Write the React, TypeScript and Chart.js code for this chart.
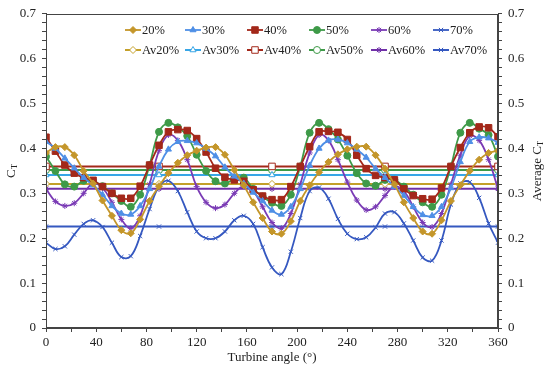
import React, { useEffect, useRef } from 'react';
import { Chart, registerables } from 'chart.js';
import { drawPoint } from 'chart.js/helpers';

Chart.register(...registerables);

const FONT = "'Liberation Serif', 'Times New Roman', serif";

// Turbine angle (degrees)
const angles = [
  0, 7.5, 15, 22.5, 30, 37.5, 45, 52.5,
  60, 67.5, 75, 82.5, 90, 97.5, 105, 112.5,
  120, 127.5, 135, 142.5, 150, 157.5, 165, 172.5,
  180, 187.5, 195, 202.5, 210, 217.5, 225, 232.5,
  240, 247.5, 255, 262.5, 270, 277.5, 285, 292.5,
  300, 307.5, 315, 322.5, 330, 337.5, 345, 352.5,
  360,
];

const ct20 = [
  0.39, 0.403, 0.403, 0.385, 0.35, 0.322, 0.284, 0.25,
  0.218, 0.211, 0.242, 0.283, 0.316, 0.345, 0.368, 0.385,
  0.395, 0.402, 0.403, 0.386, 0.352, 0.318, 0.28, 0.245,
  0.215, 0.21, 0.238, 0.283, 0.318, 0.347, 0.37, 0.387,
  0.398, 0.404, 0.404, 0.385, 0.355, 0.32, 0.28, 0.245,
  0.215, 0.21, 0.24, 0.283, 0.318, 0.35, 0.375, 0.39,
  0.395,
];

const ct30 = [
  0.415, 0.4, 0.378, 0.356, 0.335, 0.318, 0.297, 0.272,
  0.255, 0.253, 0.272, 0.31, 0.36, 0.398, 0.415, 0.417,
  0.412, 0.4, 0.383, 0.358, 0.338, 0.322, 0.302, 0.283,
  0.262, 0.253, 0.27, 0.31, 0.362, 0.4, 0.418, 0.42,
  0.412, 0.398, 0.38, 0.355, 0.335, 0.315, 0.295, 0.27,
  0.252, 0.25, 0.27, 0.312, 0.37, 0.415, 0.425, 0.423,
  0.413,
];

const ct40 = [
  0.425, 0.394, 0.363, 0.345, 0.335, 0.329, 0.315, 0.3,
  0.289, 0.289, 0.316, 0.363, 0.407, 0.437, 0.442, 0.44,
  0.422, 0.392, 0.356, 0.336, 0.33, 0.327, 0.308, 0.294,
  0.286, 0.286, 0.315, 0.36, 0.404, 0.437, 0.438, 0.436,
  0.42, 0.385, 0.355, 0.34, 0.335, 0.33, 0.31, 0.295,
  0.288, 0.287, 0.312, 0.36, 0.402, 0.435, 0.448, 0.446,
  0.426,
];

const ct50 = [
  0.382, 0.35, 0.32, 0.315, 0.328, 0.327, 0.316, 0.3,
  0.283, 0.27, 0.297, 0.363, 0.437, 0.457, 0.447, 0.428,
  0.386, 0.35, 0.327, 0.322, 0.332, 0.335, 0.31, 0.293,
  0.279, 0.272, 0.297, 0.36, 0.435, 0.457, 0.443, 0.42,
  0.384, 0.345, 0.322, 0.317, 0.33, 0.33, 0.315, 0.297,
  0.28, 0.27, 0.297, 0.36, 0.435, 0.457, 0.444, 0.43,
  0.382,
];

const ct60 = [
  0.31, 0.282, 0.272, 0.278, 0.3, 0.322, 0.312, 0.28,
  0.242, 0.222, 0.25, 0.32, 0.395, 0.43, 0.418, 0.375,
  0.315, 0.28, 0.267, 0.275, 0.3, 0.316, 0.305, 0.27,
  0.235, 0.222, 0.255, 0.32, 0.39, 0.43, 0.418, 0.375,
  0.325, 0.285, 0.263, 0.27, 0.295, 0.315, 0.305, 0.27,
  0.235, 0.225, 0.255, 0.32, 0.385, 0.428, 0.418, 0.375,
  0.31,
];

const ct70 = [
  0.19, 0.176, 0.182, 0.208, 0.232, 0.24, 0.225, 0.19,
  0.158, 0.16, 0.205, 0.265, 0.315, 0.328, 0.305, 0.258,
  0.215, 0.2, 0.2, 0.215, 0.24, 0.25, 0.232, 0.18,
  0.135, 0.12, 0.17, 0.245, 0.305, 0.313, 0.288, 0.243,
  0.21, 0.198, 0.202, 0.224, 0.255, 0.258, 0.233, 0.195,
  0.157, 0.15, 0.195, 0.275, 0.322, 0.325, 0.29, 0.233,
  0.19,
];

// Average lines (marker positions and values)
const avgAngles = [0, 90, 180, 270, 360];
const av20 = 0.321;
const av30 = 0.341;
const av40 = 0.36;
const av50 = 0.352;
const av60 = 0.31;
const av70 = 0.226;

const seriesLabels = ['20%', '30%', '40%', '50%', '60%', '70%'];
const avgLabels = ['Av20%', 'Av30%', 'Av40%', 'Av50%', 'Av60%', 'Av70%'];

const COLORS = ['#c4962a', '#4f8fe6', '#a3281a', '#3e9a48', '#7a3bb5', '#3558c0'];
const AVG_COLORS = ['#c4a02a', '#38a6e6', '#a3281a', '#3e9a48', '#7030a8', '#3558c0'];
const STYLES = ['rectRot', 'triangle', 'rect', 'circle', 'star', 'crossRot'];
const RADII = [3.5, 3.5, 4.6, 3.5, 3, 3];

const LEGEND_X = [125, 185, 247, 309, 371, 433];
const LEGEND_Y = [30, 50];

function decorPlugin() {
  return {
    id: 'decor',
    afterDraw(chart: any) {
      const { ctx, chartArea: ca } = chart;
      ctx.save();
      // frame
      ctx.strokeStyle = '#444';
      ctx.lineWidth = 1;
      ctx.strokeRect(Math.round(ca.left) + 0.5, Math.round(ca.top) + 0.5, Math.round(ca.right - ca.left) - 1, Math.round(ca.bottom - ca.top) - 1);

      // legend
      chart.data.datasets.forEach((ds: any, i: number) => {
        const col = i % 6;
        const row = Math.floor(i / 6);
        const x0 = LEGEND_X[col];
        const y = LEGEND_Y[row];
        ctx.strokeStyle = ds.borderColor;
        ctx.lineWidth = ds.borderWidth;
        ctx.beginPath();
        ctx.moveTo(x0, y);
        ctx.lineTo(x0 + 16, y);
        ctx.stroke();
        ctx.fillStyle = ds.pointBackgroundColor;
        ctx.strokeStyle = ds.pointBorderColor;
        ctx.lineWidth = 1;
        drawPoint(ctx, { pointStyle: ds.pointStyle, radius: ds.pointRadius, rotation: 0, borderWidth: 1 } as any, x0 + 8, y);
        ctx.fillStyle = '#222';
        ctx.font = `12.5px ${FONT}`;
        ctx.textAlign = 'left';
        ctx.textBaseline = 'middle';
        ctx.fillText(ds.label, x0 + 17, y + 0.5);
      });

      // axis titles
      const drawCT = (prefix: string, cx: number, cy: number) => {
        ctx.save();
        ctx.translate(cx, cy);
        ctx.rotate(-Math.PI / 2);
        ctx.fillStyle = '#222';
        ctx.textBaseline = 'middle';
        ctx.textAlign = 'left';
        ctx.font = `13px ${FONT}`;
        const main = prefix + 'C';
        const wMain = ctx.measureText(main).width;
        ctx.font = `9px ${FONT}`;
        const wSub = ctx.measureText('T').width;
        const start = -(wMain + wSub) / 2;
        ctx.font = `13px ${FONT}`;
        ctx.fillText(main, start, 0);
        ctx.font = `9px ${FONT}`;
        ctx.fillText('T', start + wMain, 3);
        ctx.restore();
      };
      drawCT('', 12, (ca.top + ca.bottom) / 2);
      drawCT('Average ', 538, (ca.top + ca.bottom) / 2);

      ctx.fillStyle = '#222';
      ctx.font = `13px ${FONT}`;
      ctx.textAlign = 'center';
      ctx.textBaseline = 'middle';
      ctx.fillText('Turbine angle (°)', (ca.left + ca.right) / 2, 358);
      ctx.restore();
    },
  };
}

export default function App() {
  const ref = useRef<HTMLCanvasElement | null>(null);

  useEffect(() => {
    document.body.style.margin = '0';
    const canvas = ref.current;
    if (!canvas) return;

    const seriesValues = [ct20, ct30, ct40, ct50, ct60, ct70];
    const avgValues = [av20, av30, av40, av50, av60, av70];

    const mainSets = seriesValues.map((vals, i) => ({
      label: seriesLabels[i],
      data: angles.map((a, j) => ({ x: a, y: vals[j] })),
      borderColor: COLORS[i],
      backgroundColor: COLORS[i],
      pointBackgroundColor: COLORS[i],
      pointBorderColor: COLORS[i],
      pointStyle: STYLES[i],
      pointRadius: RADII[i],
      pointBorderWidth: 1,
      borderWidth: 1.8,
      tension: 0.4,
      yAxisID: 'y',
      order: 1,
    }));

    const avgSets = avgValues.map((v, i) => ({
      label: avgLabels[i],
      data: avgAngles.map((a) => ({ x: a, y: v })),
      borderColor: AVG_COLORS[i],
      backgroundColor: '#ffffff',
      pointBackgroundColor: STYLES[i] === 'star' || STYLES[i] === 'crossRot' ? AVG_COLORS[i] : '#ffffff',
      pointBorderColor: AVG_COLORS[i],
      pointStyle: STYLES[i],
      pointRadius: RADII[i],
      pointBorderWidth: 1,
      borderWidth: 2,
      tension: 0,
      yAxisID: 'y',
      order: 2,
    }));

    const tickFont = { family: FONT, size: 13 };
    const yCallback = (v: any) => {
      const r = Math.round(Number(v) * 100);
      if (r % 10 !== 0) return '';
      return r === 0 ? '0' : (r / 100).toFixed(1);
    };
    const yScale = (pos: 'left' | 'right', width: number) => ({
      type: 'linear' as const,
      position: pos,
      min: 0,
      max: 0.7,
      ticks: {
        stepSize: 0.02,
        autoSkip: false,
        maxTicksLimit: 100,
        padding: 6,
        color: '#222',
        font: tickFont,
        callback: yCallback,
      },
      grid: { display: true, drawOnChartArea: false, drawTicks: true, tickLength: 4, color: '#444' },
      border: { display: true, color: '#444' },
      afterFit: (s: any) => {
        s.width = width;
      },
    });

    const chart = new Chart(canvas, {
      type: 'line',
      data: { datasets: [...mainSets, ...avgSets] as any },
      options: {
        animation: false,
        responsive: false,
        maintainAspectRatio: false,
        layout: { padding: { top: 10, left: 0, right: 0, bottom: 0 } },
        plugins: { legend: { display: false }, tooltip: { enabled: false } },
        scales: {
          x: {
            type: 'linear',
            position: 'bottom',
            min: 0,
            max: 360,
            ticks: {
              stepSize: 20,
              autoSkip: false,
              maxRotation: 0,
              padding: 3,
              color: '#222',
              font: tickFont,
              callback: (v: any) => (Number(v) % 40 === 0 ? String(v) : ''),
            },
            grid: { display: true, drawOnChartArea: false, drawTicks: true, tickLength: 4, color: '#444' },
            border: { display: true, color: '#444' },
            afterFit: (s: any) => {
              s.height = 44;
            },
          },
          y: yScale('left', 46),
          y2: yScale('right', 52),
        },
      } as any,
      plugins: [decorPlugin()],
    });

    return () => chart.destroy();
  }, []);

  return (
    <div style={{ position: 'fixed', left: 0, top: 0, width: 550, height: 372, background: '#fff' }}>
      <canvas ref={ref} width={550} height={372} style={{ width: 550, height: 372, display: 'block' }} />
    </div>
  );
}
